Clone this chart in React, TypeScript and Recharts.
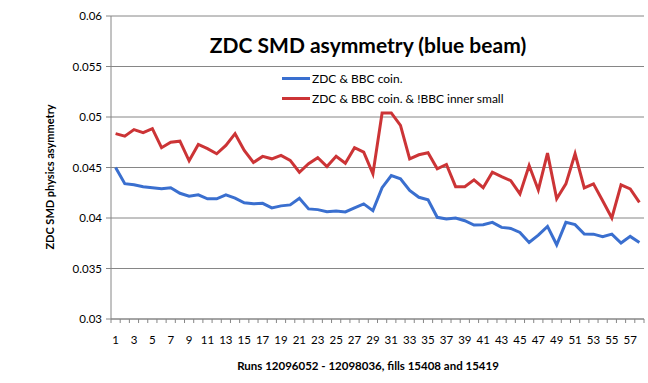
import React from "react";
import { LineChart, Line, XAxis, YAxis, CartesianGrid, Legend } from "recharts";

const runs: number[] = Array.from({ length: 58 }, (_, i) => i + 1);
const blueSeries: number[] = [
  0.0450, 0.0434, 0.0433, 0.0431, 0.0430, 0.0429, 0.0430, 0.04245, 0.04215, 0.0423,
  0.0419, 0.0419, 0.0423, 0.04196, 0.0415, 0.0414, 0.04145, 0.0410, 0.0412, 0.0413,
  0.04196, 0.0409, 0.04083, 0.04063, 0.0407, 0.0406, 0.0410, 0.0414, 0.04073, 0.0430,
  0.0442, 0.04388, 0.04272, 0.04205, 0.0418, 0.04007, 0.0399, 0.0400, 0.03973, 0.0393,
  0.03934, 0.03957, 0.03907, 0.03897, 0.03857, 0.03758, 0.03831, 0.03917, 0.03735, 0.03957,
  0.03934, 0.03841, 0.0384, 0.03815, 0.03841, 0.03752, 0.03818, 0.03758,
];
const redSeries: number[] = [
  0.04835, 0.0481, 0.04875, 0.04845, 0.04885, 0.04696, 0.04751, 0.04761, 0.04566, 0.04728,
  0.04686, 0.04636, 0.04719, 0.04835, 0.04669, 0.0455, 0.0461, 0.04586, 0.0462, 0.0457,
  0.04453, 0.04537, 0.04597, 0.0451, 0.04612, 0.04542, 0.04696, 0.04652, 0.04437, 0.0504,
  0.0504, 0.04917, 0.04586, 0.04626, 0.04646, 0.04487, 0.0453, 0.0431, 0.0431, 0.04378,
  0.0430, 0.04453, 0.0441, 0.0437, 0.04238, 0.0452, 0.04278, 0.04642, 0.0419, 0.04338,
  0.04636, 0.04298, 0.04338, 0.0417, 0.0400, 0.04328, 0.04288, 0.04155,
];
const seriesNames: string[] = ["ZDC & BBC coin.", "ZDC & BBC coin. & !BBC inner small"];
const yTicks: number[] = [0.03, 0.035, 0.04, 0.045, 0.05, 0.055, 0.06];
const yTickLabels: string[] = ["0.03", "0.035", "0.04", "0.045", "0.05", "0.055", "0.06"];
const xTickLabels: number[] = runs.filter((r) => r % 2 === 1);
const xBoundaries: number[] = [0, ...runs].map((r) => r + 0.5);
const title = "ZDC SMD asymmetry (blue beam)";
const xTitle = "Runs 12096052 - 12098036, fills 15408 and 15419";
const yTitle = "ZDC SMD physics asymmetry";

const data = runs.map((r, i) => ({ run: r, blue: blueSeries[i], red: redSeries[i] }));

const FONT = "Lato, 'Open Sans', sans-serif";
const GRID = "#868686";

const XTick = (props: any) => {
  const { x, y, payload } = props;
  const v = payload.value as number;
  if (Number.isInteger(v)) {
    return (
      <text x={x} y={y + 25} textAnchor="middle" fontFamily={FONT} fontSize={11.5} fill="#000">
        {String(v)}
      </text>
    );
  }
  return <line x1={x} x2={x} y1={y} y2={y + 4} stroke={GRID} strokeWidth={1} />;
};

const LegendContent = (props: any) => {
  const { payload } = props;
  return (
    <div style={{ fontFamily: FONT, fontSize: 12, color: "#000" }}>
      {(payload || []).map((p: any, i: number) => (
        <div key={i} style={{ display: "flex", alignItems: "center", height: 20 }}>
          <div style={{ width: 28, height: 3, background: p.color, marginRight: 2 }} />
          <span>{p.value}</span>
        </div>
      ))}
    </div>
  );
};

export default function App() {
  return (
    <div style={{ position: "absolute", left: 0, top: 0, width: 648, height: 383, background: "#fff" }}>
      <LineChart
        width={648}
        height={383}
        data={data}
        margin={{ top: 16, right: 4, left: 0, bottom: 0 }}
      >
        <CartesianGrid vertical={false} stroke={GRID} strokeWidth={1} />
        <XAxis
          dataKey="run"
          type="number"
          domain={[0.5, 58.5]}
          ticks={[...xBoundaries, ...xTickLabels].sort((a, b) => a - b)}
          interval={0}
          tickLine={false}
          tickSize={0}
          tickMargin={0}
          tick={<XTick />}
          axisLine={{ stroke: GRID }}
          height={64}
        />
        <YAxis
          type="number"
          domain={[0.03, 0.06]}
          ticks={yTicks}
          interval={0}
          width={111}
          tickSize={5}
          tickMargin={4}
          tickLine={{ stroke: GRID }}
          axisLine={{ stroke: GRID }}
          tickFormatter={(v: number) => yTickLabels[yTicks.indexOf(v)] ?? String(v)}
          tick={{ fontFamily: FONT, fontSize: 11.5, fill: "#000" }}
        />
        <Legend
          layout="vertical"
          align="center"
          verticalAlign="middle"
          content={<LegendContent />}
          wrapperStyle={{ position: "absolute", left: 282, top: 68, width: 260 }}
        />
        <Line
          dataKey="blue"
          name={seriesNames[0]}
          stroke="#3A6FCF"
          strokeWidth={3}
          dot={false}
          isAnimationActive={false}
        />
        <Line
          dataKey="red"
          name={seriesNames[1]}
          stroke="#CC3436"
          strokeWidth={3}
          dot={false}
          isAnimationActive={false}
        />
      </LineChart>
      <div
        style={{
          position: "absolute", left: 0, width: 736, top: 31, textAlign: "center",
          fontFamily: FONT, fontWeight: 700, fontSize: 21, color: "#000", lineHeight: "28px",
        }}
      >
        {title}
      </div>
      <div
        style={{
          position: "absolute", left: 0, width: 736, top: 358, textAlign: "center",
          fontFamily: FONT, fontWeight: 700, fontSize: 11.5, color: "#000", lineHeight: "16px",
        }}
      >
        {xTitle}
      </div>
      <div
        style={{
          position: "absolute", left: 50 - 100, top: 177 - 8, width: 200, height: 16, textAlign: "center",
          transform: "rotate(-90deg)", fontFamily: FONT, fontWeight: 700, fontSize: 11, color: "#000",
          lineHeight: "16px", whiteSpace: "nowrap",
        }}
      >
        {yTitle}
      </div>
    </div>
  );
}
